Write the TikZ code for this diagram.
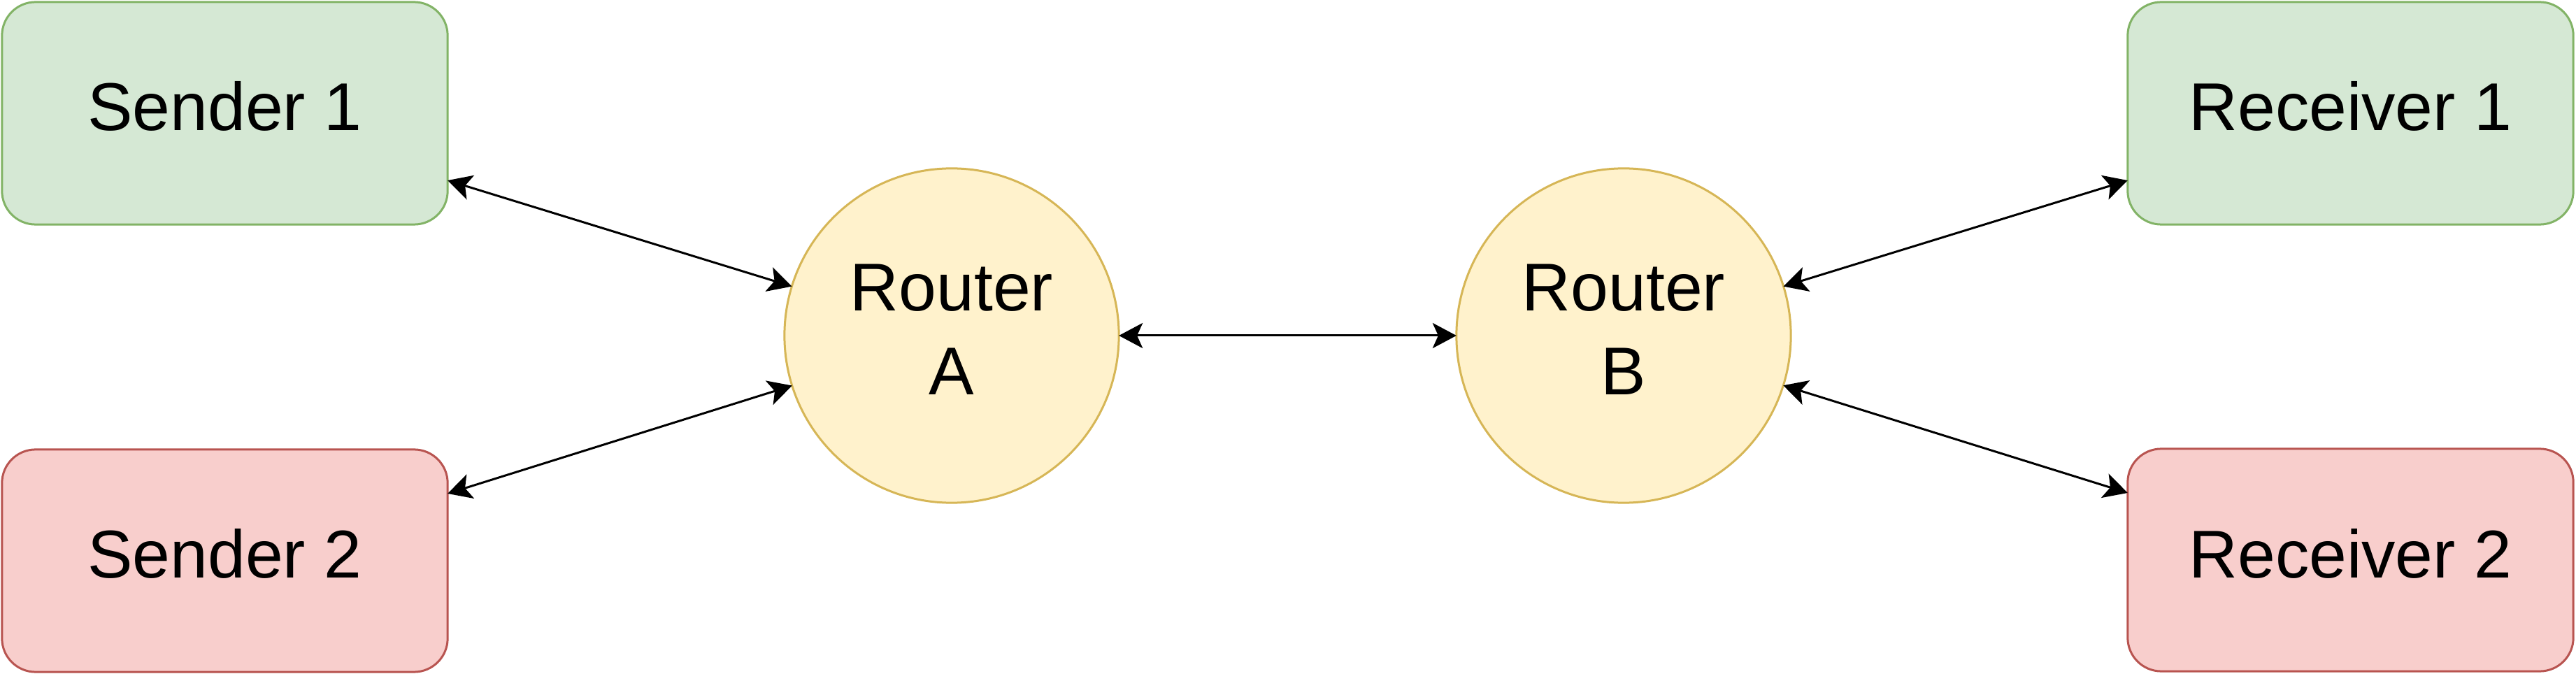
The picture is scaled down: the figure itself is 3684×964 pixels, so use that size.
\documentclass[tikz,border=0pt]{standalone}
\usepackage{fontspec}
\setmainfont{Liberation Sans}
\usetikzlibrary{arrows.meta}
\definecolor{gfill}{HTML}{D5E8D4}\definecolor{gdraw}{HTML}{82B366}
\definecolor{rfill}{HTML}{F8CECC}\definecolor{rdraw}{HTML}{B85450}
\definecolor{yfill}{HTML}{FFF2CC}\definecolor{ydraw}{HTML}{D6B656}
\tikzset{
  box/.style={rectangle, rounded corners=0.48cm, minimum width=6.37cm, minimum height=3.18cm, inner sep=0pt, outer sep=0pt, line width=0.03cm},
  greenbox/.style={box, fill=gfill, draw=gdraw},
  redbox/.style={box, fill=rfill, draw=rdraw},
  router/.style={circle, minimum size=4.78cm, inner sep=0pt, outer sep=0pt, fill=yfill, draw=ydraw, line width=0.03cm},
  lbl/.style={anchor=base, inner sep=0pt, font=\fontsize{27.5}{33}\selectfont},
  conn/.style={{Stealth[length=0.34cm,width=0.36cm,inset=0.08cm]}-{Stealth[length=0.34cm,width=0.36cm,inset=0.08cm]}, line width=0.03cm, black}
}
\begin{document}
\begin{tikzpicture}[x=0.01cm, y=-0.01cm]
\useasboundingbox (0,0) rectangle (3684,964);
\node[greenbox] (s1) at (321.5,162) {};
\node[redbox] (s2) at (321.5,802) {};
\node[greenbox] (r1) at (3361.5,162) {};
\node[redbox] (r2) at (3361.5,801) {};
\node[router] (ra) at (1361,480) {};
\node[router] (rb) at (2322,480) {};
\node[lbl] (ts1) at (321.5,187) {Sender 1};
\node[lbl] (ts2) at (321.5,826) {Sender 2};
\node[lbl] (tr1) at (3361.5,187) {Receiver 1};
\node[lbl] (tr2) at (3361.5,826) {Receiver 2};
\node[lbl] (ta1) at (1361,444.5) {Router};
\node[lbl] (ta2) at (1361,564) {A};
\node[lbl] (tb1) at (2322,444.5) {Router};
\node[lbl] (tb2) at (2322,564) {B};
\draw[conn] ([yshift=-0.96cm]s1.east) -- (ra);
\draw[conn] ([yshift=0.96cm]s2.east) -- (ra);
\draw[conn] (ra) -- (rb);
\draw[conn] (rb) -- ([yshift=-0.96cm]r1.west);
\draw[conn] (rb) -- ([yshift=0.96cm]r2.west);
\end{tikzpicture}
\end{document}
